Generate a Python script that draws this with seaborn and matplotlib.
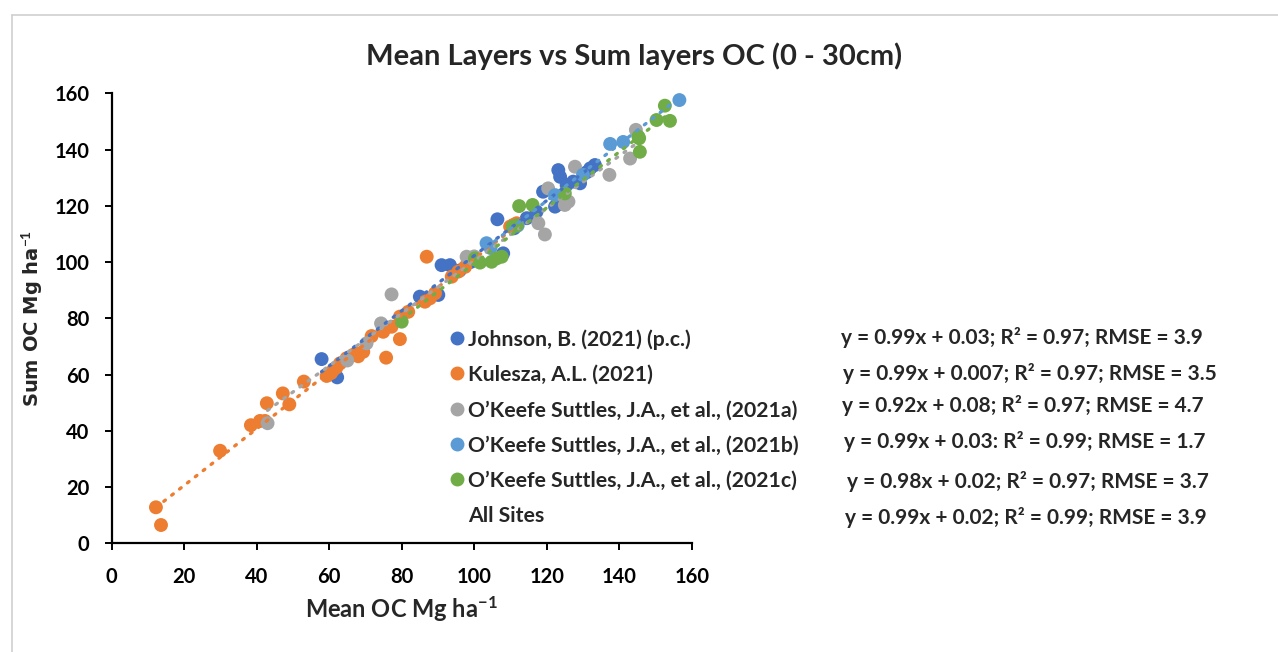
import numpy as np
import pandas as pd
import matplotlib
matplotlib.use('Agg')
import matplotlib.pyplot as plt
import seaborn as sns
from matplotlib.lines import Line2D

# values (Mean OC vs Sum OC, Mg ha-1)
johnson_x = [57.9, 62.2, 85.0, 90.1, 91.0, 93.3, 96.0, 99.0, 106.4, 108.0, 111.0, 114.5,
             117.2, 119.0, 122.3, 122.8, 123.2, 123.7, 125.5, 127.3, 129.2, 131.0, 132.0, 133.3]
johnson_y = [65.5, 59.0, 87.7, 88.3, 98.9, 98.9, 97.0, 100.0, 115.2, 103.1, 112.0, 115.6,
             117.9, 125.0, 119.7, 120.3, 132.7, 130.3, 127.4, 128.6, 128.0, 131.9, 133.3, 134.5]

kulesza_x = [12.2, 13.6, 29.9, 38.4, 40.9, 42.3, 42.8, 47.2, 49.0, 53.0, 59.3, 60.5, 61.1, 62.0,
             63.0, 64.8, 66.6, 67.5, 68.0, 69.4, 71.7, 74.9, 75.7, 77.2, 79.5, 79.5, 81.8,
             86.4, 86.9, 87.8, 89.2, 93.8, 95.6, 97.5, 109.9, 110.8, 111.7]
kulesza_y = [12.8, 6.5, 32.9, 42.0, 43.5, 43.5, 49.8, 53.3, 49.4, 57.5, 59.5, 60.5, 61.6, 62.5,
             64.0, 65.8, 67.0, 67.5, 66.5, 68.1, 73.7, 75.2, 66.0, 77.0, 72.6, 80.6, 82.3,
             85.9, 101.9, 87.1, 88.9, 94.8, 96.6, 98.3, 112.6, 113.2, 113.8]

keefe_a_x = [43.0, 65.0, 70.3, 74.3, 77.2, 97.9, 100.0, 117.7, 119.5, 120.4, 125.0, 126.0,
             127.8, 137.3, 143.0, 144.6]
keefe_a_y = [42.7, 65.0, 71.1, 78.2, 88.5, 101.9, 102.0, 113.8, 109.8, 126.2, 120.3, 121.5,
             133.9, 131.0, 136.8, 147.0]

keefe_b_x = [103.4, 104.5, 112.0, 122.3, 130.0, 137.5, 141.1, 156.6]
keefe_b_y = [106.7, 105.0, 113.0, 123.8, 131.0, 142.0, 142.7, 157.6]

keefe_c_x = [80.0, 100.2, 101.6, 104.8, 106.2, 107.6, 110.6, 111.7, 112.4, 116.1, 125.0,
             145.3, 145.5, 145.7, 150.3, 152.6, 154.0]
keefe_c_y = [78.8, 101.3, 99.8, 100.1, 101.3, 101.9, 112.6, 113.0, 119.9, 120.3, 124.4,
             144.6, 144.0, 139.2, 150.5, 155.6, 150.2]

sources = ['Johnson, B. (2021) (p.c.)', 'Kulesza, A.L. (2021)',
           'O\u2019Keefe Suttles, J.A., et al., (2021a)',
           'O\u2019Keefe Suttles, J.A., et al., (2021b)',
           'O\u2019Keefe Suttles, J.A., et al., (2021c)']
colors = ['#4472C4', '#ED7D31', '#A5A5A5', '#5B9BD5', '#70AD47']

equations = ['y = 0.99x + 0.03; R\u00b2 = 0.97; RMSE = 3.9',
             'y = 0.99x + 0.007; R\u00b2 = 0.97; RMSE = 3.5',
             'y = 0.92x + 0.08; R\u00b2 = 0.97; RMSE = 4.7',
             'y = 0.99x + 0.03: R\u00b2 = 0.99; RMSE = 1.7',
             'y = 0.98x + 0.02; R\u00b2 = 0.97; RMSE = 3.7',
             'y = 0.99x + 0.02; R\u00b2 = 0.99; RMSE = 3.9']

series_x = [johnson_x, kulesza_x, keefe_a_x, keefe_b_x, keefe_c_x]
series_y = [johnson_y, kulesza_y, keefe_a_y, keefe_b_y, keefe_c_y]

frames = []
for name, xs, ys in zip(sources, series_x, series_y):
    frames.append(pd.DataFrame({'mean_oc': xs, 'sum_oc': ys, 'source': name}))
df = pd.concat(frames, ignore_index=True)

sns.set_theme(style='ticks')
plt.rcParams['font.family'] = ['Lato', 'DejaVu Sans']
plt.rcParams['font.weight'] = 'bold'
plt.rcParams['mathtext.fontset'] = 'custom'
plt.rcParams['mathtext.rm'] = 'Lato:bold'
plt.rcParams['mathtext.bf'] = 'Lato:bold'
plt.rcParams['mathtext.default'] = 'bf'

W, H = 1278, 652
fig = plt.figure(figsize=(W / 100, H / 100), dpi=100)
ax = fig.add_axes([111.7 / W, 1 - 543.3 / H, 580 / W, 450 / H])

sns.scatterplot(data=df, x='mean_oc', y='sum_oc', hue='source', hue_order=sources,
                palette=colors, s=100, edgecolor='none', linewidth=0, alpha=1,
                legend=False, ax=ax, zorder=2)

for name, c in zip(sources, colors):
    sub = df[df['source'] == name]
    sns.regplot(data=sub, x='mean_oc', y='sum_oc', scatter=False, ci=None, ax=ax,
                color=c, truncate=True,
                line_kws=dict(linestyle=(0, (0.6, 2.4)), linewidth=2.4,
                              dash_capstyle='round', zorder=3))

ax.set_xlim(0, 160)
ax.set_ylim(0, 160)
ax.set_xticks(range(0, 161, 20))
ax.set_yticks(range(0, 161, 20))
sns.despine(ax=ax)
for sp in ['left', 'bottom']:
    ax.spines[sp].set_linewidth(1.6)
    ax.spines[sp].set_color('black')
ax.tick_params(direction='out', length=5, width=1.4, colors='black', labelsize=14.5)
ax.tick_params(axis='x', pad=12)
ax.tick_params(axis='y', pad=11)
for lab in ax.get_xticklabels() + ax.get_yticklabels():
    lab.set_fontweight('bold')
ax.set_xlabel('')
ax.set_ylabel('')

fig.text(0.496, 1 - 56 / H, 'Mean Layers vs Sum layers OC (0 - 30cm)',
         ha='center', va='center', fontsize=21, fontweight='bold')
fig.text(401 / W, 1 - 609 / H, r'Mean OC Mg ha$^{-1}$', ha='center', va='center',
         fontsize=17, fontweight='bold')
fig.text(32 / W, 1 - 318 / H, r'Sum OC Mg ha$^{-1}$', ha='center', va='center',
         rotation=90, fontsize=14, fontweight='bold', family='DejaVu Sans')

handles = [Line2D([], [], marker='o', linestyle='none', color=c, markersize=9)
           for c in colors]
handles.append(Line2D([], [], linestyle='none', marker=None))
leg = fig.legend(handles, sources + ['All Sites'], loc='upper left',
                 bbox_to_anchor=(447 / W, 1 - 329 / H), frameon=False,
                 fontsize=15.3, handletextpad=0.1, handlelength=0.9,
                 labelspacing=0.72, borderpad=0, borderaxespad=0)
for t in leg.get_texts():
    t.set_fontweight('bold')

eq_x = [841, 843, 842, 844, 847, 845]
eq_y = [337, 373, 406, 442, 481, 517]
for txt, ex, ey in zip(equations, eq_x, eq_y):
    fig.text(ex / W, 1 - ey / H, txt, ha='left', va='center', fontsize=15,
             fontweight='bold')

# light grey frame of the chart area
fig.add_artist(Line2D([12 / W, 12 / W], [0, 1 - 15 / H], transform=fig.transFigure,
                      color='#d0d0d0', linewidth=1.2))
fig.add_artist(Line2D([12 / W, 1], [1 - 15 / H, 1 - 15 / H], transform=fig.transFigure,
                      color='#d0d0d0', linewidth=1.2))

fig.savefig('out.png', dpi=100)
